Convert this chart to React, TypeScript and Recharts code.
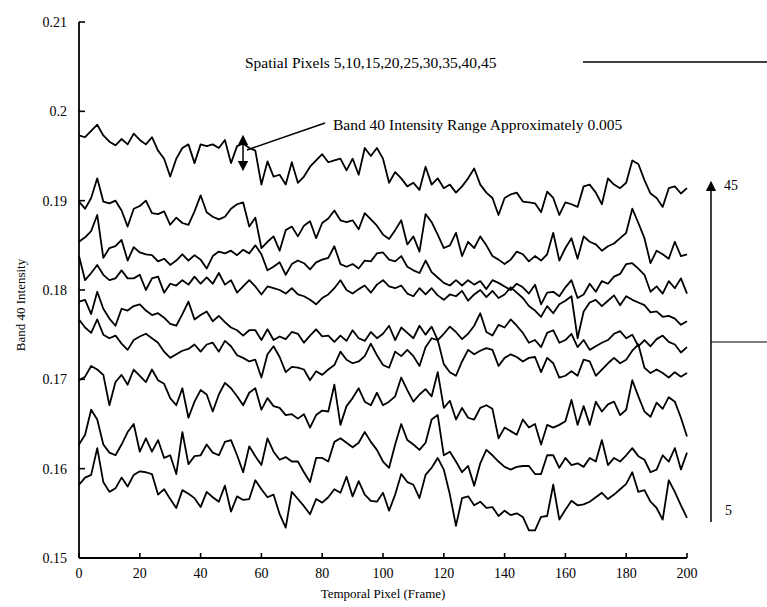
import { LineChart, Line, XAxis, YAxis } from "recharts";

// Band 40 intensity per temporal frame (every 2nd frame), one series per spatial pixel.
const frames = Array.from({ length: 101 }, (_, i) => i * 2);

const pixel45 = [
  0.1973, 0.1971, 0.1978, 0.1985, 0.1973, 0.1966, 0.1962, 0.1969, 0.1963, 0.1975,
  0.1968, 0.1963, 0.1971, 0.1956, 0.1947, 0.1927, 0.1947, 0.1959, 0.1963, 0.1942,
  0.1963, 0.1961, 0.1963, 0.1959, 0.1968, 0.1942, 0.1961, 0.1964, 0.1959, 0.1956,
  0.1918, 0.1944, 0.1927, 0.1929, 0.1918, 0.1943, 0.192, 0.1927, 0.1938, 0.1945,
  0.1952, 0.1943, 0.1945, 0.1947, 0.1934, 0.1947, 0.1929, 0.1959, 0.195, 0.1959,
  0.1947, 0.192, 0.1932, 0.1925, 0.1916, 0.192, 0.1912, 0.1938, 0.1918, 0.1925,
  0.1914, 0.1918, 0.1909, 0.1916, 0.1925, 0.1936, 0.1918, 0.1909, 0.1903, 0.1884,
  0.1903, 0.1907, 0.1909, 0.1899, 0.1898, 0.1897, 0.1887, 0.191, 0.1903, 0.1884,
  0.1898, 0.1896, 0.1893, 0.1916, 0.1918, 0.1909, 0.1896, 0.1925, 0.1918, 0.1914,
  0.192, 0.1945, 0.1941, 0.1923, 0.1908, 0.1903, 0.1893, 0.1914, 0.1916, 0.1908,
  0.1914,
];

const pixel40 = [
  0.1899, 0.1891, 0.1903, 0.1925, 0.1899, 0.1897, 0.19, 0.1889, 0.1871, 0.1891,
  0.1894, 0.19, 0.1886, 0.1885, 0.1888, 0.1873, 0.1881, 0.1875, 0.1873, 0.1888,
  0.1906, 0.1887, 0.1882, 0.1879, 0.1882, 0.1891, 0.1896, 0.1898, 0.1871, 0.1881,
  0.1847, 0.1854, 0.186, 0.1844, 0.1867, 0.1871, 0.186, 0.1872, 0.1877, 0.1858,
  0.1875, 0.188, 0.1889, 0.1878, 0.1876, 0.1878, 0.1868, 0.1886, 0.1879, 0.1872,
  0.1862, 0.1857, 0.1867, 0.1878, 0.1851, 0.186, 0.1843, 0.1885, 0.1876, 0.1862,
  0.1847, 0.185, 0.1864, 0.1838, 0.1854, 0.1847, 0.186, 0.185, 0.1838, 0.1834,
  0.1829, 0.1834, 0.1843, 0.184, 0.1832, 0.1838, 0.1833, 0.184, 0.1864, 0.1833,
  0.1847, 0.1858, 0.1835, 0.186, 0.1854, 0.1851, 0.1844, 0.1849, 0.1852, 0.1858,
  0.1864, 0.1891, 0.1875, 0.1858, 0.183, 0.1844, 0.184, 0.1835, 0.1854, 0.1838,
  0.184,
];

const pixel35 = [
  0.1854, 0.1859, 0.1866, 0.1884, 0.1836, 0.1847, 0.1849, 0.1856, 0.1833, 0.1848,
  0.1842, 0.184, 0.1839, 0.1832, 0.1835, 0.1828, 0.1833, 0.184, 0.1833, 0.1839,
  0.1834, 0.1824, 0.1838, 0.1843, 0.1841, 0.1844, 0.1839, 0.1845, 0.1841, 0.185,
  0.184, 0.1822, 0.1826, 0.1831, 0.1817, 0.1829, 0.1833, 0.183, 0.1823, 0.1831,
  0.1834, 0.1836, 0.1849, 0.1829, 0.1826, 0.1829, 0.1824, 0.1833, 0.1832, 0.1841,
  0.1842, 0.1834, 0.1832, 0.1838, 0.1826, 0.1822, 0.1819, 0.1833, 0.182, 0.1814,
  0.1808, 0.1805, 0.1811, 0.1805, 0.1811, 0.1806, 0.181, 0.1801, 0.1811, 0.1808,
  0.1804, 0.18, 0.1807, 0.1803, 0.1796, 0.1806, 0.1784, 0.1797, 0.1798, 0.1793,
  0.1803, 0.1811, 0.1791, 0.1795, 0.1807, 0.1798, 0.181, 0.1807, 0.1815, 0.1818,
  0.1829, 0.183, 0.1824, 0.1817, 0.1798, 0.1804, 0.1796, 0.181, 0.1802, 0.1813,
  0.1796,
];

const pixel30 = [
  0.1838, 0.1811, 0.1819, 0.1828, 0.1817, 0.1811, 0.1813, 0.1822, 0.1813, 0.1813,
  0.1817, 0.18, 0.1813, 0.1815, 0.1797, 0.1807, 0.1805, 0.1811, 0.1806, 0.1815,
  0.1807, 0.1814, 0.1807, 0.1819, 0.1806, 0.1811, 0.1797, 0.1804, 0.1811, 0.1804,
  0.1795, 0.1804, 0.1802, 0.18, 0.1796, 0.1802, 0.1795, 0.1793, 0.1789, 0.1784,
  0.1791, 0.1795, 0.1802, 0.1811, 0.18, 0.1796, 0.1801, 0.1805, 0.1797, 0.1806,
  0.1811, 0.1804, 0.1802, 0.1805, 0.1796, 0.1793, 0.1802, 0.1795, 0.1802, 0.1794,
  0.1789, 0.1795, 0.1793, 0.1799, 0.1788, 0.1795, 0.18, 0.1792, 0.1799, 0.1791,
  0.1795, 0.1803, 0.1797, 0.1791, 0.1782, 0.1777, 0.177, 0.1782, 0.1774, 0.1784,
  0.1788, 0.1793, 0.1746, 0.1776, 0.1786, 0.1789, 0.1782, 0.1788, 0.1794, 0.1783,
  0.1793, 0.1789, 0.1786, 0.1783, 0.1775, 0.1776, 0.177, 0.1771, 0.1768, 0.1761,
  0.1765,
];

const pixel25 = [
  0.1787, 0.1789, 0.1773, 0.1798, 0.1779, 0.1768, 0.176, 0.1779, 0.1777, 0.1782,
  0.1784, 0.1777, 0.1772, 0.1774, 0.1769, 0.1762, 0.176, 0.1773, 0.1787, 0.1767,
  0.1772, 0.1776, 0.1765, 0.1771, 0.1764, 0.1758, 0.1755, 0.1749, 0.1755, 0.1755,
  0.1744, 0.1756, 0.1744, 0.1748, 0.1745, 0.1753, 0.1751, 0.1741, 0.1749, 0.1756,
  0.1748, 0.1749, 0.1742, 0.1749, 0.1743, 0.1755, 0.1746, 0.1743, 0.1753, 0.1746,
  0.1751, 0.176, 0.1744, 0.1758, 0.1752, 0.1746, 0.176, 0.175, 0.1759, 0.1744,
  0.1751, 0.1759, 0.1753, 0.1745, 0.1751, 0.176, 0.1774, 0.1753, 0.1749, 0.1761,
  0.1758, 0.1767, 0.176, 0.1752, 0.1741, 0.1744, 0.1736, 0.1752, 0.1755, 0.1741,
  0.1744, 0.1751, 0.1736, 0.1744, 0.1733, 0.1737, 0.1741, 0.1744, 0.1751, 0.1754,
  0.1746, 0.175, 0.1737, 0.1744, 0.1737, 0.1745, 0.1749, 0.1742, 0.1739, 0.173,
  0.1736,
];

const pixel20 = [
  0.1767, 0.1758, 0.1752, 0.1767, 0.175, 0.1746, 0.1749, 0.174, 0.1733, 0.1744,
  0.1748, 0.1751, 0.1746, 0.1741, 0.1731, 0.1724, 0.1728, 0.1732, 0.1734, 0.1739,
  0.1731, 0.1739, 0.1741, 0.1731, 0.1743, 0.1737, 0.1727, 0.1724, 0.172, 0.1722,
  0.1702, 0.1728, 0.1737, 0.1725, 0.1708, 0.1714, 0.1713, 0.1711, 0.1699, 0.1709,
  0.1705, 0.1711, 0.1716, 0.1731, 0.1722, 0.1718, 0.172, 0.1726, 0.174, 0.1727,
  0.1716, 0.1713, 0.1731, 0.1726, 0.1733, 0.1726, 0.1715, 0.1736, 0.1746, 0.1744,
  0.1717, 0.1708, 0.1704, 0.172, 0.1733, 0.1728, 0.1732, 0.1735, 0.1733, 0.1715,
  0.1724, 0.1728, 0.1725, 0.172, 0.1724, 0.1725, 0.1708, 0.1724, 0.1718, 0.1702,
  0.1704, 0.1709, 0.1704, 0.1722, 0.172, 0.1704, 0.1711, 0.1718, 0.1724, 0.1718,
  0.1722, 0.1732, 0.1739, 0.1713, 0.1707, 0.1711, 0.1707, 0.1702, 0.1708, 0.1703,
  0.1707,
];

const pixel15 = [
  0.1699, 0.1703, 0.1715, 0.1711, 0.1705, 0.1671, 0.1697, 0.1705, 0.1694, 0.1711,
  0.1704, 0.1697, 0.1711, 0.1699, 0.1695, 0.1679, 0.1671, 0.169, 0.1657, 0.1675,
  0.1688, 0.1683, 0.1664, 0.1683, 0.1696, 0.169, 0.1681, 0.1671, 0.1685, 0.169,
  0.1666, 0.1679, 0.167, 0.1668, 0.166, 0.1661, 0.1656, 0.1661, 0.1646, 0.166,
  0.1665, 0.1664, 0.1694, 0.1649, 0.167, 0.1679, 0.169, 0.1675, 0.1671, 0.1685,
  0.1671, 0.1675, 0.1681, 0.1702, 0.1688, 0.1675, 0.1683, 0.1689, 0.1681, 0.1708,
  0.1668, 0.1676, 0.1655, 0.1668, 0.1657, 0.1655, 0.1668, 0.1671, 0.1667, 0.1634,
  0.1646, 0.1642, 0.1638, 0.1655, 0.1646, 0.165, 0.1627, 0.1649, 0.1646, 0.1649,
  0.1653, 0.1677, 0.1649, 0.167, 0.1649, 0.1675, 0.1664, 0.1672, 0.1675, 0.166,
  0.1666, 0.1699, 0.1681, 0.1664, 0.1658, 0.1674, 0.1667, 0.168, 0.1675, 0.1657,
  0.1636,
];

const pixel10 = [
  0.1627, 0.1638, 0.1666, 0.1655, 0.1627, 0.1618, 0.1615, 0.1627, 0.1641, 0.165,
  0.1619, 0.1634, 0.1619, 0.1632, 0.1612, 0.1615, 0.1594, 0.1641, 0.1605, 0.1614,
  0.1615, 0.1627, 0.1618, 0.1615, 0.163, 0.1632, 0.1615, 0.1596, 0.1625, 0.1614,
  0.1604, 0.1634, 0.1619, 0.161, 0.1613, 0.1608, 0.1608, 0.1596, 0.1585, 0.1612,
  0.1612, 0.1608, 0.163, 0.1634, 0.1629, 0.1624, 0.1629, 0.1641, 0.163, 0.1621,
  0.1608, 0.1601, 0.1627, 0.165, 0.1632, 0.1627, 0.1621, 0.1629, 0.1655, 0.166,
  0.1615, 0.1619, 0.1608, 0.1596, 0.1603, 0.1581, 0.1606, 0.1621, 0.1615, 0.1608,
  0.1602, 0.1599, 0.1602, 0.1603, 0.1603, 0.1594, 0.1594, 0.1615, 0.1615, 0.1601,
  0.1612, 0.1604, 0.1606, 0.1602, 0.1612, 0.1608, 0.1632, 0.1604, 0.1612, 0.1608,
  0.1615, 0.1623, 0.1614, 0.161, 0.1596, 0.1599, 0.1615, 0.1608, 0.1623, 0.1599,
  0.1618,
];

const pixel5 = [
  0.1582, 0.159, 0.1593, 0.1623, 0.1585, 0.1574, 0.1578, 0.159, 0.158, 0.1593,
  0.1597, 0.1596, 0.1594, 0.1571, 0.1577, 0.1566, 0.1556, 0.1576, 0.1572, 0.1567,
  0.1557, 0.1574, 0.1568, 0.1563, 0.1581, 0.1552, 0.1569, 0.1565, 0.1566, 0.1587,
  0.1577, 0.1568, 0.1571, 0.1549, 0.1534, 0.1574, 0.1566, 0.1558, 0.1549, 0.1566,
  0.1562, 0.1568, 0.1577, 0.1573, 0.1591, 0.1569, 0.1586, 0.1571, 0.1564, 0.1563,
  0.1573, 0.1553, 0.1571, 0.1594, 0.1585, 0.1582, 0.1567, 0.1593, 0.1601, 0.1612,
  0.1599, 0.1571, 0.1536, 0.1567, 0.1569, 0.1559, 0.1563, 0.1556, 0.1557, 0.1547,
  0.1553, 0.1548, 0.155, 0.1546, 0.1531, 0.1531, 0.1546, 0.1547, 0.1582, 0.1543,
  0.1554, 0.1564, 0.1559, 0.156, 0.1563, 0.1568, 0.1573, 0.1566, 0.1571, 0.1577,
  0.1583, 0.1596, 0.1574, 0.1576, 0.1563, 0.1556, 0.1543, 0.1587, 0.1574, 0.1559,
  0.1545,
];

const xTicks = [0, 20, 40, 60, 80, 100, 120, 140, 160, 180, 200];
const yTicks = [0.15, 0.16, 0.17, 0.18, 0.19, 0.2, 0.21];

const seriesKeys = ["p5", "p10", "p15", "p20", "p25", "p30", "p35", "p40", "p45"];

const data = frames.map((frame, i) => ({
  frame,
  p5: pixel5[i],
  p10: pixel10[i],
  p15: pixel15[i],
  p20: pixel20[i],
  p25: pixel25[i],
  p30: pixel30[i],
  p35: pixel35[i],
  p40: pixel40[i],
  p45: pixel45[i],
}));

const FONT = "'Liberation Serif', 'Times New Roman', serif";

// ticks in the original point inward, so draw them by hand next to the label
function XTick({ x, y, payload }: any) {
  return (
    <g>
      <line x1={x} x2={x} y1={y - 10} y2={y - 15} stroke="#000" strokeWidth={1.6} />
      <text x={x} y={y} dy="0.71em" textAnchor="middle" fontSize={14} fontFamily={FONT} fill="#000">
        {payload.value}
      </text>
    </g>
  );
}

function YTick({ x, y, payload }: any) {
  return (
    <g>
      <line x1={x + 12} x2={x + 18} y1={y} y2={y} stroke="#000" strokeWidth={1.6} />
      <text x={x} y={y} dy="0.355em" textAnchor="end" fontSize={14} fontFamily={FONT} fill="#000">
        {String(payload.value)}
      </text>
    </g>
  );
}

export default function App() {
  return (
    <div style={{ position: "absolute", left: 0, top: 0, width: 767, height: 607, background: "#fff" }}>
      <LineChart width={767} height={607} data={data} margin={{ top: 22, right: 80, bottom: 0, left: 0 }}>
        <XAxis
          dataKey="frame"
          type="number"
          domain={[0, 200]}
          ticks={xTicks}
          height={49}
          tickSize={0}
          tickMargin={10}
          tickLine={false}
          axisLine={{ stroke: "#000", strokeWidth: 1.8 }}
          tick={<XTick />}
        />
        <YAxis
          type="number"
          domain={[0.15, 0.21]}
          ticks={yTicks}
          width={79}
          tickSize={0}
          tickMargin={12}
          tickLine={false}
          axisLine={{ stroke: "#000", strokeWidth: 1.8 }}
          tick={<YTick />}
        />
        {seriesKeys.map((k) => (
          <Line
            key={k}
            dataKey={k}
            type="linear"
            stroke="#000"
            strokeWidth={1.8}
            strokeLinejoin="round"
            dot={false}
            isAnimationActive={false}
          />
        ))}
      </LineChart>
      <svg
        width={767}
        height={607}
        style={{ position: "absolute", left: 0, top: 0, pointerEvents: "none" }}
        fontFamily={FONT}
      >
        <defs>
          <marker id="head" viewBox="0 0 10 10" refX="5" refY="5" markerWidth="7" markerHeight="7" orient="auto-start-reverse">
            <path d="M0,0 L10,5 L0,10 z" fill="#000" />
          </marker>
        </defs>
        <text x={20} y={305} transform="rotate(-90 20 305)" textAnchor="middle" fontSize={13} dy="0.35em">
          Band 40 Intensity
        </text>
        <text x={383} y={598} textAnchor="middle" fontSize={13}>
          Temporal Pixel (Frame)
        </text>
        <text x={245} y={68} fontSize={15.5}>
          Spatial Pixels 5,10,15,20,25,30,35,40,45
        </text>
        <line x1={583} x2={767} y1={62} y2={62} stroke="#000" strokeWidth={1.5} />
        <text x={333} y={130} fontSize={15.5}>
          Band 40 Intensity Range Approximately 0.005
        </text>
        <line x1={325} y1={123} x2={247} y2={150} stroke="#000" strokeWidth={1.5} />
        <line x1={243} y1={140} x2={243} y2={166} stroke="#000" strokeWidth={1.5} markerStart="url(#head)" markerEnd="url(#head)" />
        <line x1={711} y1={186} x2={711} y2={522} stroke="#000" strokeWidth={1.5} markerStart="url(#head)" />
        <line x1={711} y1={342} x2={767} y2={342} stroke="#000" strokeWidth={1.2} />
        <text x={724} y={190} fontSize={14}>45</text>
        <text x={725} y={515} fontSize={14}>5</text>
      </svg>
    </div>
  );
}
